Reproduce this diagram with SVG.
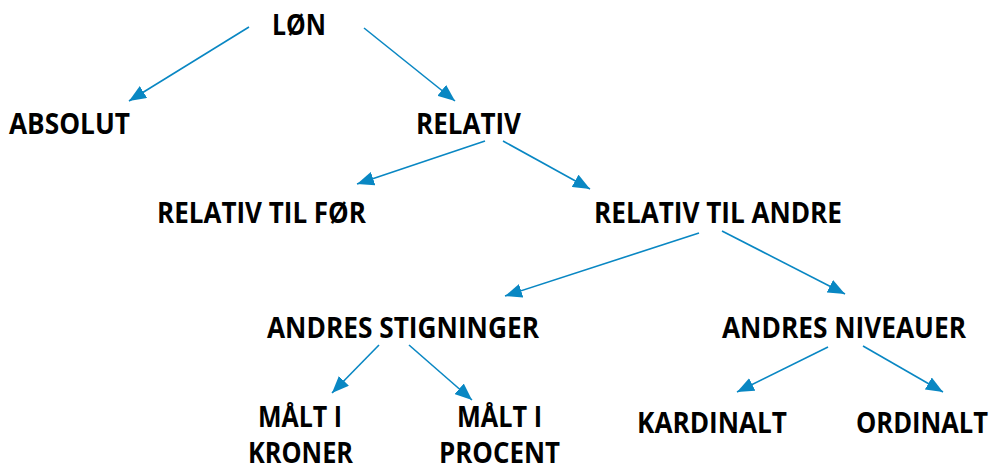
<svg xmlns="http://www.w3.org/2000/svg" width="990" height="468" viewBox="0 0 990 468">
<style>
text{font-family:"Open Sans","Liberation Sans",sans-serif;font-weight:700;font-size:28.5px;fill:#000}
.c line{stroke:#0987c3;stroke-width:1.6;fill:none;marker-end:url(#ah)}
</style>
<defs>
<marker id="ah" markerUnits="userSpaceOnUse" markerWidth="18" markerHeight="14" refX="17" refY="7" orient="auto">
<path d="M0,0 L17,7 L0,14 z" fill="#0987c3"/>
</marker>
</defs>
<rect width="990" height="468" fill="#fff"/>
<g id="n-lon"><text x="272" y="35" textLength="54" lengthAdjust="spacingAndGlyphs">LØN</text></g>
<g id="n-absolut"><text x="9" y="134" textLength="121" lengthAdjust="spacingAndGlyphs">ABSOLUT</text></g>
<g id="n-relativ"><text x="416" y="134" textLength="105" lengthAdjust="spacingAndGlyphs">RELATIV</text></g>
<g id="n-relativ-for"><text x="157" y="223" textLength="209" lengthAdjust="spacingAndGlyphs">RELATIV TIL FØR</text></g>
<g id="n-relativ-andre"><text x="594" y="223" textLength="248" lengthAdjust="spacingAndGlyphs">RELATIV TIL ANDRE</text></g>
<g id="n-stigninger"><text x="267" y="338" textLength="272" lengthAdjust="spacingAndGlyphs">ANDRES STIGNINGER</text></g>
<g id="n-niveauer"><text x="722" y="338" textLength="244" lengthAdjust="spacingAndGlyphs">ANDRES NIVEAUER</text></g>
<g id="n-kroner"><text x="258" y="427" textLength="84" lengthAdjust="spacingAndGlyphs">MÅLT I</text><text x="248" y="463" textLength="105" lengthAdjust="spacingAndGlyphs">KRONER</text></g>
<g id="n-procent"><text x="457" y="427" textLength="85" lengthAdjust="spacingAndGlyphs">MÅLT I</text><text x="439" y="463" textLength="121" lengthAdjust="spacingAndGlyphs">PROCENT</text></g>
<g id="n-kardinalt"><text x="637" y="433" textLength="150" lengthAdjust="spacingAndGlyphs">KARDINALT</text></g>
<g id="n-ordinalt"><text x="856" y="433" textLength="132" lengthAdjust="spacingAndGlyphs">ORDINALT</text></g>
<g id="connectors" class="c">
<line x1="249" y1="27" x2="129" y2="101"/>
<line x1="364" y1="28" x2="455" y2="101"/>
<line x1="485" y1="141" x2="357" y2="184"/>
<line x1="503" y1="141" x2="590" y2="189"/>
<line x1="699" y1="233" x2="505" y2="296"/>
<line x1="722" y1="231" x2="845" y2="294"/>
<line x1="379" y1="345" x2="332" y2="393"/>
<line x1="409" y1="345" x2="472" y2="400"/>
<line x1="828" y1="347" x2="737" y2="392"/>
<line x1="863" y1="346" x2="943" y2="392"/>
</g>
</svg>
